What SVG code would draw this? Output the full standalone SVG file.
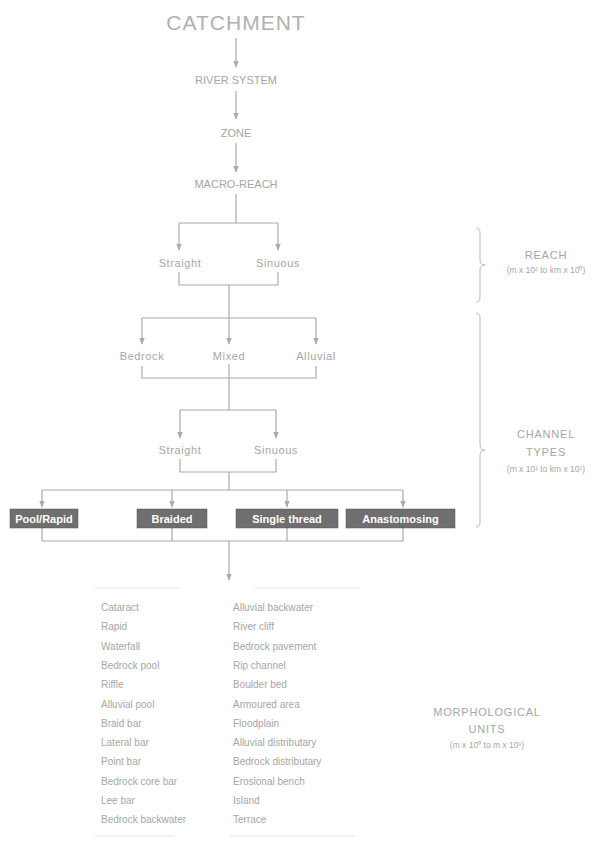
<svg xmlns="http://www.w3.org/2000/svg" width="614" height="843" viewBox="0 0 614 843">
<style>
text{font-family:"Liberation Sans",Arial,sans-serif;fill:#a6a6a6}
.c{text-anchor:middle}
.n{font-size:11px}
.l{font-size:10px}
.h{font-size:11px;letter-spacing:0.6px}
.s{font-size:8.5px}
.w{fill:#fff;font-weight:bold;font-size:11px;text-anchor:middle}
.ln{stroke:#aaa;stroke-width:1.2;fill:none}
.ar{stroke:#aaa;stroke-width:1.2;fill:none;marker-end:url(#ah)}
.bx{fill:#6f6f6f;stroke:#555;stroke-width:0.5}
.br{stroke:#bbb;stroke-width:1;fill:none}
</style>
<defs>
<marker id="ah" viewBox="0 0 10 10" refX="9" refY="5" markerWidth="7" markerHeight="7" orient="auto" markerUnits="userSpaceOnUse">
<path d="M0,1 L10,5 L0,9 Z" fill="#aaa"/>
</marker>
</defs>
<rect width="614" height="843" fill="#fff"/>

<g id="connectors">
<line class="ar" x1="236" y1="38" x2="236" y2="67"/>
<line class="ar" x1="236" y1="91" x2="236" y2="119"/>
<line class="ar" x1="236" y1="143" x2="236" y2="172"/>
<polyline class="ln" points="236,194 236,223"/>
<polyline class="ln" points="179,223 278,223"/>
<line class="ar" x1="179" y1="223" x2="179" y2="250"/>
<line class="ar" x1="278" y1="223" x2="278" y2="250"/>
<polyline class="ln" points="179,272 179,285 278,285 278,272"/>
<polyline class="ln" points="229,285 229,318"/>
<polyline class="ln" points="142,318 316,318"/>
<line class="ar" x1="142" y1="318" x2="142" y2="344"/>
<line class="ar" x1="229" y1="318" x2="229" y2="344"/>
<line class="ar" x1="316" y1="318" x2="316" y2="344"/>
<polyline class="ln" points="142,366 142,378 316,378 316,366"/>
<polyline class="ln" points="229,364 229,410"/>
<polyline class="ln" points="180,410 276,410"/>
<line class="ar" x1="180" y1="410" x2="180" y2="438"/>
<line class="ar" x1="276" y1="410" x2="276" y2="438"/>
<polyline class="ln" points="180,459 180,472 276,472 276,459"/>
<polyline class="ln" points="229,472 229,490"/>
<polyline class="ln" points="42,490 403,490"/>
<line class="ar" x1="42" y1="490" x2="42" y2="507"/>
<line class="ar" x1="172" y1="490" x2="172" y2="507"/>
<line class="ar" x1="287" y1="490" x2="287" y2="507"/>
<line class="ar" x1="403" y1="490" x2="403" y2="507"/>
<polyline class="ln" points="42,528 42,541 403,541 403,528"/>
<line class="ln" x1="172" y1="528" x2="172" y2="541"/>
<line class="ln" x1="287" y1="528" x2="287" y2="541"/>
<line class="ar" x1="229" y1="541" x2="229" y2="580"/>
<path class="br" d="M476,228 Q480,228 480,233 L480,260 Q480,265 485,265 Q480,265 480,270 L480,297 Q480,302 476,302"/>
<path class="br" d="M476,313 Q480,313 480,318 L480,445 Q480,450 485,450 Q480,450 480,455 L480,522 Q480,527 476,527"/>
<line stroke="#ececec" stroke-width="1.5" x1="95" y1="588" x2="180" y2="588"/>
<line stroke="#ececec" stroke-width="1.5" x1="255" y1="588" x2="360" y2="588"/>
<line stroke="#ececec" stroke-width="1.5" x1="95" y1="836" x2="175" y2="836"/>
<line stroke="#ececec" stroke-width="1.5" x1="230" y1="836" x2="355" y2="836"/>
</g>

<g id="catchment"><text x="236" y="30" class="c" style="font-size:21px;letter-spacing:1px;fill:#b0b0b0">CATCHMENT</text></g>
<g id="river-system"><text x="236" y="84" class="c n">RIVER SYSTEM</text></g>
<g id="zone"><text x="236" y="137" class="c n">ZONE</text></g>
<g id="macro-reach"><text x="236" y="188" class="c n">MACRO-REACH</text></g>
<g id="reach-straight"><text x="180" y="267" class="c h">Straight</text></g>
<g id="reach-sinuous"><text x="278" y="267" class="c h">Sinuous</text></g>
<g id="bedrock"><text x="142" y="360" class="c h">Bedrock</text></g>
<g id="mixed"><text x="229" y="360" class="c h">Mixed</text></g>
<g id="alluvial"><text x="316" y="360" class="c h">Alluvial</text></g>
<g id="ch-straight"><text x="180" y="454" class="c h">Straight</text></g>
<g id="ch-sinuous"><text x="276" y="454" class="c h">Sinuous</text></g>
<g id="pool-rapid"><rect class="bx" x="10" y="509" width="68" height="19"/><text x="44" y="522.5" class="w">Pool/Rapid</text></g>
<g id="braided"><rect class="bx" x="137" y="509" width="70" height="19"/><text x="172" y="522.5" class="w">Braided</text></g>
<g id="single-thread"><rect class="bx" x="236" y="509" width="102" height="19"/><text x="287" y="522.5" class="w">Single thread</text></g>
<g id="anastomosing"><rect class="bx" x="346" y="509" width="109" height="19"/><text x="400.5" y="522.5" class="w">Anastomosing</text></g>

<g id="units-left">
<text x="101" y="611" class="l">Cataract</text>
<text x="101" y="630.3" class="l">Rapid</text>
<text x="101" y="649.6" class="l">Waterfall</text>
<text x="101" y="668.9" class="l">Bedrock pool</text>
<text x="101" y="688.2" class="l">Riffle</text>
<text x="101" y="707.5" class="l">Alluvial pool</text>
<text x="101" y="726.8" class="l">Braid bar</text>
<text x="101" y="746.1" class="l">Lateral bar</text>
<text x="101" y="765.4" class="l">Point bar</text>
<text x="101" y="784.7" class="l">Bedrock core bar</text>
<text x="101" y="804" class="l">Lee bar</text>
<text x="101" y="823.3" class="l">Bedrock backwater</text>
</g>
<g id="units-right">
<text x="233" y="611" class="l">Alluvial backwater</text>
<text x="233" y="630.3" class="l">River cliff</text>
<text x="233" y="649.6" class="l">Bedrock pavement</text>
<text x="233" y="668.9" class="l">Rip channel</text>
<text x="233" y="688.2" class="l">Boulder bed</text>
<text x="233" y="707.5" class="l">Armoured area</text>
<text x="233" y="726.8" class="l">Floodplain</text>
<text x="233" y="746.1" class="l">Alluvial distributary</text>
<text x="233" y="765.4" class="l">Bedrock distributary</text>
<text x="233" y="784.7" class="l">Erosional bench</text>
<text x="233" y="804" class="l">Island</text>
<text x="233" y="823.3" class="l">Terrace</text>
</g>

<g id="label-reach">
<text x="546" y="259" class="c" style="font-size:11px;letter-spacing:0.8px">REACH</text>
<text x="546" y="273" class="c s">(m x 10² to km x 10⁰)</text>
</g>
<g id="label-channel-types">
<text x="546" y="438" class="c" style="font-size:11px;letter-spacing:0.8px">CHANNEL</text>
<text x="546" y="456" class="c" style="font-size:11px;letter-spacing:0.8px">TYPES</text>
<text x="546" y="472" class="c s">(m x 10¹ to km x 10¹)</text>
</g>
<g id="label-morphological-units">
<text x="487" y="716" class="c" style="font-size:11px;letter-spacing:0.8px">MORPHOLOGICAL</text>
<text x="487" y="733" class="c" style="font-size:11px;letter-spacing:0.8px">UNITS</text>
<text x="487" y="748" class="c s">(m x 10⁰ to m x 10¹)</text>
</g>
</svg>
